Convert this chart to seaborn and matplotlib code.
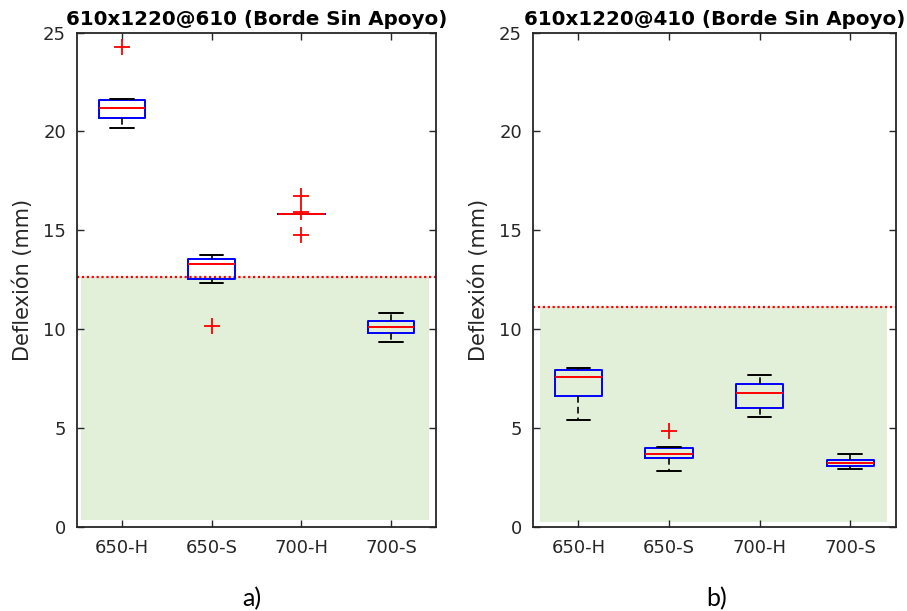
import numpy as np
import pandas as pd
import matplotlib
matplotlib.use("Agg")
import matplotlib.pyplot as plt
import seaborn as sns
from matplotlib.patches import Rectangle

categories = ["650-H", "650-S", "700-H", "700-S"]
titles = ["610x1220@610 (Borde Sin Apoyo)", "610x1220@410 (Borde Sin Apoyo)"]
panel_labels = ["a)", "b)"]
ylabel = "Deflexión (mm)"
yticks = [0, 5, 10, 15, 20, 25]

# Panel a) deflection samples (mm)
a_650H = [20.19, 20.40, 20.67, 21.00, 21.20, 21.40, 21.60, 21.65, 24.26]
a_650S = [10.15, 12.31, 12.51, 12.90, 13.27, 13.45, 13.55, 13.70, 13.75]
a_700H = [14.75, 15.84, 15.84, 15.84, 15.84, 15.84, 15.84, 15.95, 16.72]
a_700S = [9.34, 9.60, 9.81, 10.00, 10.12, 10.30, 10.42, 10.60, 10.79]
# Panel b) deflection samples (mm)
b_650H = [5.40, 6.20, 6.63, 7.20, 7.56, 7.80, 7.93, 7.98, 8.01]
b_650S = [2.83, 3.20, 3.46, 3.60, 3.70, 3.85, 3.98, 4.04, 4.82]
b_700H = [5.54, 5.80, 6.03, 6.40, 6.75, 7.00, 7.24, 7.50, 7.66]
b_700S = [2.93, 3.00, 3.07, 3.15, 3.20, 3.30, 3.38, 3.55, 3.70]
# Allowable deflection limits (mm)
limits = [12.64, 11.11]

panels = [[a_650H, a_650S, a_700H, a_700S], [b_650H, b_650S, b_700H, b_700S]]

sns.set_style("white")
plt.rcParams["font.family"] = ["DejaVu Sans"]

fig = plt.figure(figsize=(9.07, 6.11), dpi=100)
axes_pos = [[0.0849, 0.1380, 0.3958, 0.8085], [0.5877, 0.1380, 0.3997, 0.8085]]
green_ext = [(-0.455, 3.42, 0.35), (-0.42, 3.40, 0.25)]
label_x = [0.278, 0.79]
grey = "#262626"

for i in range(2):
    ax = fig.add_axes(axes_pos[i])
    rows = []
    for cat, vals in zip(categories, panels[i]):
        for v in vals:
            rows.append((cat, v))
    df = pd.DataFrame(rows, columns=["cat", "val"])

    x0, x1, y0 = green_ext[i]
    ax.add_patch(Rectangle((x0, y0), x1 - x0, limits[i] - y0,
                           facecolor="#E2EFD9", edgecolor="none", zorder=0))
    ax.axhline(limits[i], color="#ff0000", linestyle=(0, (1, 1.2)), linewidth=1.6, zorder=1)

    sns.boxplot(data=df, x="cat", y="val", order=categories, ax=ax,
                width=0.52, fill=False, whis=1.5, fliersize=12, linewidth=1.4,
                boxprops=dict(color="#0000ff", linewidth=1.4),
                medianprops=dict(color="#ff0000", linewidth=1.4),
                whiskerprops=dict(color="black", linestyle=(0, (4, 2.5)), linewidth=1.2),
                capprops=dict(color="black", linewidth=1.4),
                flierprops=dict(marker="+", markeredgecolor="#ff0000",
                                markersize=12, markeredgewidth=1.3))

    ax.set_xlim(-0.5, 3.5)
    ax.set_ylim(0, 25)
    ax.set_yticks(yticks)
    ax.set_xticks(range(len(categories)))
    ax.set_xticklabels(categories)
    ax.set_xlabel("")
    ax.set_ylabel(ylabel, fontsize=15, color=grey)
    ax.yaxis.set_label_coords(-0.122, 0.5)
    ax.set_title(titles[i], fontsize=14.3, fontweight="bold", pad=5.5, color="black")
    ax.tick_params(axis="both", direction="in", top=True, right=True, bottom=True, left=True,
                   length=5, width=1.0, color=grey, labelcolor=grey, labelsize=13)
    ax.tick_params(axis="x", pad=9)
    ax.tick_params(axis="y", pad=8)
    for sp in ax.spines.values():
        sp.set_visible(True)
        sp.set_color(grey)
        sp.set_linewidth(1.3)
    fig.text(label_x[i], 0.0196, panel_labels[i], fontsize=18, family=["Lato", "DejaVu Sans"],
             ha="center", va="center", color="black")

fig.savefig("out.png", dpi=100)
